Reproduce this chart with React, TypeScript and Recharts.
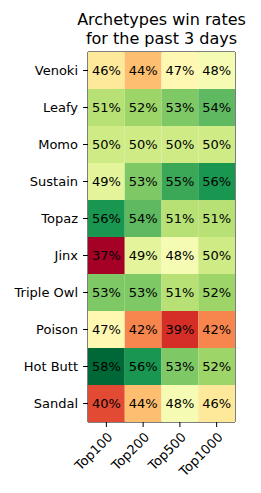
import { Bar, BarChart, XAxis, YAxis, Cell, LabelList, ReferenceArea } from "recharts"

const archetypes = ["Venoki", "Leafy", "Momo", "Sustain", "Topaz", "Jinx", "Triple Owl", "Poison", "Hot Butt", "Sandal"]
const brackets = ["Top100", "Top200", "Top500", "Top1000"]

// win rate (%) per archetype, one list per bracket
const top100 = [46, 51, 50, 49, 56, 37, 53, 47, 58, 40]
const top200 = [44, 52, 50, 53, 54, 49, 53, 42, 56, 44]
const top500 = [47, 53, 50, 55, 51, 48, 51, 39, 53, 48]
const top1000 = [48, 54, 50, 56, 51, 50, 52, 42, 52, 46]
const columns = [top100, top200, top500, top1000]

const RDYLGN = ["#a50026", "#d73027", "#f46d43", "#fdae61", "#fee08b", "#ffffbf", "#d9ef8b", "#a6d96a", "#66bd63", "#1a9850", "#006837"]
const allValues = columns.flat()
const vmin = Math.min(...allValues)
const vmax = Math.max(...allValues)

function hexToRgb(h: string) {
  return [1, 3, 5].map((i) => parseInt(h.slice(i, i + 2), 16))
}

function colorFor(v: number) {
  const pos = ((v - vmin) / (vmax - vmin)) * (RDYLGN.length - 1)
  const i = Math.min(Math.floor(pos), RDYLGN.length - 2)
  const f = pos - i
  const a = hexToRgb(RDYLGN[i])
  const b = hexToRgb(RDYLGN[i + 1])
  const c = a.map((x, k) => Math.round(x + (b[k] - x) * f))
  return `rgb(${c[0]},${c[1]},${c[2]})`
}

const FONT = "DejaVu Sans, sans-serif"

// each cell is one unit wide, stacked across the row
const chartData = archetypes.map((name, i) => {
  const row: any = { name }
  columns.forEach((col, j) => {
    row[`c${j}`] = 1
    row[`t${j}`] = `${col[i]}%`
  })
  return row
})

const XTick = ({ x, y, payload }: any) => (
  <g transform={`translate(${x + 7},${y + 7})`}>
    <text x={0} y={0} textAnchor="end" transform="rotate(-45)" fontSize={13} fontFamily={FONT} fill="#000">
      {brackets[Math.floor(payload.value)]}
    </text>
  </g>
)

export default function App() {
  return (
    <div style={{ position: "absolute", left: 0, top: 0, width: 261, height: 493, background: "#fff" }}>
      <div
        style={{
          position: "absolute",
          left: 161.5,
          top: 10,
          transform: "translateX(-50%)",
          textAlign: "center",
          fontFamily: FONT,
          fontSize: 16,
          lineHeight: "19px",
          whiteSpace: "nowrap",
          color: "#000",
        }}
      >
        Archetypes win rates
        <br />
        for the past 3 days
      </div>
      <BarChart
        width={261}
        height={493}
        data={chartData}
        layout="vertical"
        barCategoryGap={0}
        margin={{ top: 52, right: 26, bottom: 0, left: 0 }}
      >
        <XAxis
          type="number"
          domain={[0, 4]}
          ticks={[0.5, 1.5, 2.5, 3.5]}
          interval={0}
          height={71}
          tickSize={5}
          tickMargin={4}
          tick={<XTick />}
          axisLine={false}
          tickLine={{ stroke: "#000" }}
        />
        <YAxis
          type="category"
          dataKey="name"
          width={88}
          interval={0}
          tickSize={5}
          tickMargin={5}
          tick={{ fontSize: 13, fontFamily: FONT, fill: "#000" }}
          axisLine={false}
          tickLine={{ stroke: "#000" }}
        />
        {columns.map((col, j) => (
          <Bar key={j} dataKey={`c${j}`} stackId="grid" isAnimationActive={false}>
            {col.map((v, i) => (
              <Cell key={i} fill={colorFor(v)} />
            ))}
            <LabelList dataKey={`t${j}`} position="center" fill="#000" fontSize={13} fontFamily={FONT} />
          </Bar>
        ))}
        <ReferenceArea x1={0} x2={4} fill="none" stroke="#000" strokeWidth={1} ifOverflow="visible" />
      </BarChart>
    </div>
  )
}
